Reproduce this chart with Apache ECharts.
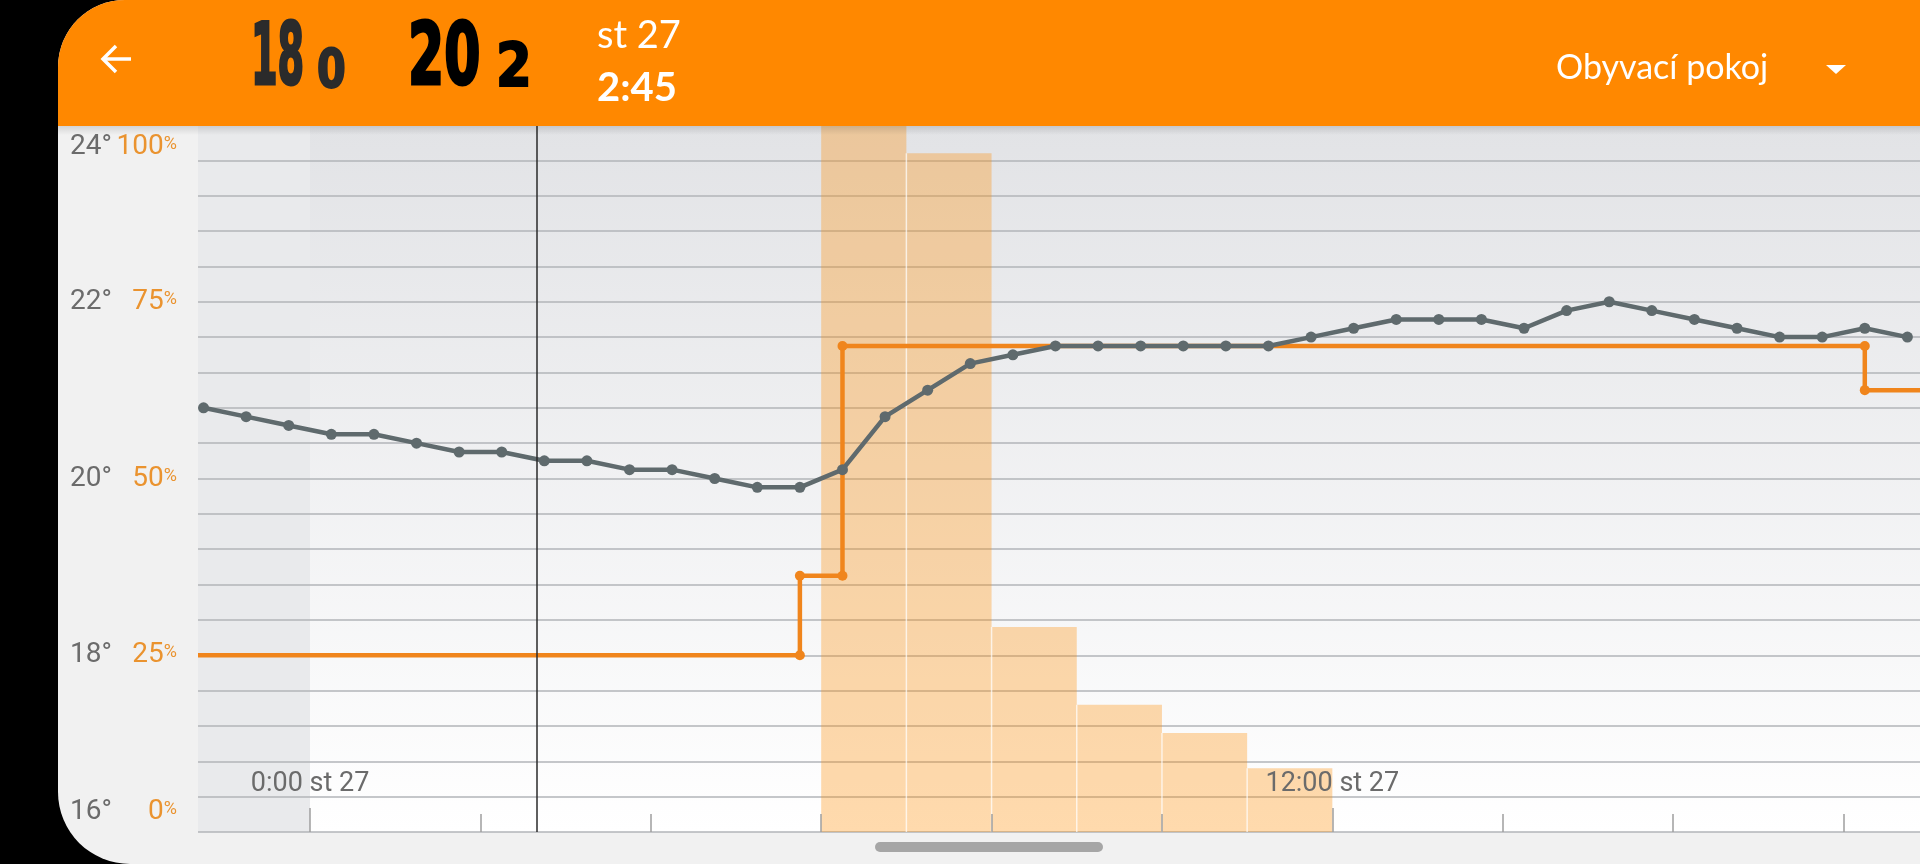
<!DOCTYPE html>
<html>
<head>
<meta charset="utf-8">
<script src="https://cdn.jsdelivr.net/npm/echarts@6/dist/echarts.min.js"></script>
<style>
html,body{margin:0;padding:0;background:#000;overflow:hidden}
#c{width:1920px;height:864px}
</style>
</head>
<body>
<div id="c"></div>
<script>
// ---------- data (hours relative to 0:00 st 27) ----------
const X_MIN = -1.315;
const X_MAX = 18.898;

const tempTimes = [-1.25, -0.75, -0.25, 0.25, 0.75, 1.25, 1.75, 2.25, 2.75, 3.25,
  3.75, 4.25, 4.75, 5.25, 5.75, 6.25, 6.75, 7.25, 7.75, 8.25,
  8.75, 9.25, 9.75, 10.25, 10.75, 11.25, 11.75, 12.25, 12.75, 13.25,
  13.75, 14.25, 14.75, 15.25, 15.75, 16.25, 16.75, 17.25, 17.75, 18.25, 18.75];
const tempValues = [20.8, 20.7, 20.6, 20.5, 20.5, 20.4, 20.3, 20.3, 20.2, 20.2,
  20.1, 20.1, 20.0, 19.9, 19.9, 20.1, 20.7, 21.0, 21.3, 21.4,
  21.5, 21.5, 21.5, 21.5, 21.5, 21.5, 21.6, 21.7, 21.8, 21.8,
  21.8, 21.7, 21.9, 22.0, 21.9, 21.8, 21.7, 21.6, 21.6, 21.7, 21.6];

const heatStartTimes = [6, 7, 8, 9, 10, 11];
const heatPercent = [100, 96, 29, 18, 14, 9];
const heatSlotHours = 1;

const setpointChangeTimes = [5.75, 6.25, 18.25];
const setpointValues = [18.0, 18.9, 21.5, 21.0];

const nowTime = 2.66;

const tempAxisMin = 16, tempAxisMax = 24, tempAxisStep = 2;
const pctAxisMin = 0, pctAxisMax = 100, pctGridStep = 5, pctLabelStep = 25;
const xTickHours = [0, 2, 4, 6, 8, 10, 12, 14, 16, 18];
const xLabelHours = [0, 12];
const xLabelDay = 'st 27';

const headerDay = 'st 27';
const headerTime = '2:45';
const roomName = 'Obyvací pokoj';
const setTempMain = '18', setTempDec = '0';
const curTempMain = '20', curTempDec = '2';

// ---------- styles ----------
const GRAY = '#5f6a6d';
const ORANGE = '#f0851c';
const HEADER = '#ff8800';
const TEMP_LABEL = '#6b6b6b';
const PCT_LABEL = '#ea932f';

const spData = [[X_MIN, setpointValues[0]]];
setpointChangeTimes.forEach((t, i) => {
  spData.push([t, setpointValues[i]]);
  spData.push([t, setpointValues[i + 1]]);
});
spData.push([X_MAX, setpointValues[setpointValues.length - 1]]);

const chart = echarts.init(document.getElementById('c'), null, {renderer: 'canvas', width: 1920, height: 864});

const tempRich = {
  n: {fontSize: 28, color: TEMP_LABEL, fontFamily: 'Roboto'},
  t: {fontSize: 28, color: TEMP_LABEL, fontFamily: 'Roboto', padding: [44, 0, 0, 0]},
  b: {fontSize: 28, color: TEMP_LABEL, fontFamily: 'Roboto', padding: [0, 0, 40, 0]}
};
const pctRich = {
  n: {fontSize: 28, color: PCT_LABEL, fontFamily: 'Roboto'},
  p: {fontSize: 18, color: PCT_LABEL, fontFamily: 'Roboto', padding: [0, 0, 5, 0]},
  tn: {fontSize: 28, color: PCT_LABEL, fontFamily: 'Roboto', padding: [44, 0, 0, 0]},
  tp: {fontSize: 18, color: PCT_LABEL, fontFamily: 'Roboto', padding: [44, 0, 5, 0]},
  bn: {fontSize: 28, color: PCT_LABEL, fontFamily: 'Roboto', padding: [0, 0, 40, 0]},
  bp: {fontSize: 18, color: PCT_LABEL, fontFamily: 'Roboto', padding: [0, 0, 45, 0]}
};

const option = {
  backgroundColor: '#000000',
  animation: false,
  grid: {
    left: 198, right: 0, top: 125, bottom: 32,
    show: true, borderWidth: 0,
    outerBoundsMode: 'none',
    backgroundColor: new echarts.graphic.LinearGradient(0, 0, 0, 1, [
      {offset: 0, color: '#e2e3e6'},
      {offset: 1, color: '#ffffff'}
    ])
  },
  xAxis: [
    {
      type: 'value', min: X_MIN, max: X_MAX, z: 5,
      axisLine: {show: false},
      splitLine: {show: false},
      axisLabel: {show: false},
      axisTick: {show: true, inside: true, length: 18, customValues: xTickHours,
        lineStyle: {color: '#9e9e9e', width: 1.5}}
    },
    {
      type: 'value', min: X_MIN, max: X_MAX, z: 5, position: 'bottom',
      axisLine: {show: false},
      splitLine: {show: false},
      axisTick: {show: true, inside: true, length: 24, customValues: xLabelHours,
        lineStyle: {color: '#9e9e9e', width: 1.5}},
      axisLabel: {show: true, inside: true, margin: 34, customValues: xLabelHours,
        color: TEMP_LABEL, fontSize: 27, fontFamily: 'Roboto',
        formatter: v => Math.round(v) + ':00 ' + xLabelDay}
    }
  ],
  yAxis: [
    {
      type: 'value', min: tempAxisMin, max: tempAxisMax, interval: tempAxisStep, position: 'left', z: 1,
      axisLine: {show: false}, axisTick: {show: false}, splitLine: {show: false},
      axisLabel: {
        align: 'left', margin: 128,
        formatter: v => {
          const k = v === tempAxisMax ? 't' : (v === tempAxisMin ? 'b' : 'n');
          return '{' + k + '|' + v + '°}';
        },
        rich: tempRich
      }
    },
    {
      type: 'value', min: pctAxisMin, max: pctAxisMax, interval: pctGridStep, position: 'left', z: 1.5,
      axisLine: {show: false}, axisTick: {show: false},
      splitLine: {show: true, lineStyle: {color: '#b2b4b8', width: 1.5}},
      axisLabel: {
        align: 'right', margin: 21,
        formatter: v => {
          if (v % pctLabelStep !== 0) return '';
          const pre = v === pctAxisMax ? 't' : (v === pctAxisMin ? 'b' : '');
          return '{' + pre + 'n|' + v + '}{' + pre + 'p|%}';
        },
        rich: pctRich
      }
    }
  ],
  series: [
    {
      name: 'shade', type: 'line', data: [], z: 1, xAxisIndex: 0, yAxisIndex: 0,
      markArea: {silent: true, itemStyle: {color: '#e9eaec'},
        data: [[{xAxis: X_MIN}, {xAxis: 0}]]}
    },
    {
      name: 'heating', type: 'custom', xAxisIndex: 0, yAxisIndex: 1, z: 2, silent: true,
      data: heatStartTimes.map((t, i) => [t, heatPercent[i]]),
      renderItem: (params, api) => {
        const t = api.value(0), p = api.value(1);
        const tl = api.coord([t, p]);
        const br = api.coord([t + heatSlotHours, 0]);
        const children = [{
          type: 'rect',
          shape: {x: tl[0], y: tl[1], width: br[0] - tl[0], height: br[1] - tl[1]},
          style: {fill: 'rgba(255,140,0,0.32)'}
        }];
        if (params.dataIndex > 0) {
          children.push({
            type: 'rect',
            shape: {x: tl[0] - 0.75, y: tl[1], width: 1.5, height: br[1] - tl[1]},
            style: {fill: 'rgba(255,255,255,0.7)'}
          });
        }
        return {type: 'group', children};
      },
      markLine: {
        silent: true, symbol: ['none', 'none'], label: {show: false},
        lineStyle: {color: '#2a2a2a', width: 1.5, type: 'solid'},
        emphasis: {disabled: true},
        data: [{xAxis: nowTime}]
      }
    },
    {
      name: 'setpoint', type: 'line', xAxisIndex: 0, yAxisIndex: 0, z: 3, silent: true,
      data: spData,
      symbol: (v, p) => (p.dataIndex === 0 || p.dataIndex === spData.length - 1) ? 'none' : 'circle',
      symbolSize: 10,
      lineStyle: {color: ORANGE, width: 4.5},
      itemStyle: {color: ORANGE}
    },
    {
      name: 'temperature', type: 'line', xAxisIndex: 0, yAxisIndex: 0, z: 4, silent: true,
      data: tempTimes.map((t, i) => [t, tempValues[i]]),
      symbol: 'circle', symbolSize: 11, showAllSymbol: true,
      lineStyle: {color: GRAY, width: 4.5},
      itemStyle: {color: GRAY}
    }
  ],
  graphic: [
    {type: 'rect', z: -5, silent: true, shape: {x: 58, y: 0, width: 1862, height: 864, r: [67, 0, 0, 72]}, style: {fill: '#f1f1f1'}},
    {type: 'rect', z: 99, silent: true, shape: {x: 58, y: 126, width: 1862, height: 9},
      style: {fill: new echarts.graphic.LinearGradient(0, 0, 0, 1, [{offset: 0, color: 'rgba(0,0,0,0.12)'}, {offset: 1, color: 'rgba(0,0,0,0)'}])}},
    {type: 'rect', z: 100, silent: true, shape: {x: 58, y: 0, width: 1862, height: 126, r: [67, 0, 0, 0]}, style: {fill: HEADER}},
    {type: 'polyline', z: 101, silent: true, shape: {points: [[116, 46], [103, 59], [116, 72]]}, style: {stroke: '#fff', lineWidth: 3.5, fill: null}},
    {type: 'line', z: 101, silent: true, shape: {x1: 104, y1: 59, x2: 131, y2: 59}, style: {stroke: '#fff', lineWidth: 3.5}},
    {type: 'text', z: 101, silent: true, x: 251, y: 61.5, scaleX: 0.5,
      style: {text: setTempMain, fill: '#2b2b2b', font: 'bold 85px "DejaVu Sans Condensed", "DejaVu Sans"', textAlign: 'left', textVerticalAlign: 'middle', stroke: '#2b2b2b', lineWidth: 3}},
    {type: 'text', z: 101, silent: true, x: 317, y: 72.5, scaleX: 0.85,
      style: {text: setTempDec, fill: '#2b2b2b', font: 'bold 54px "DejaVu Sans Condensed", "DejaVu Sans"', textAlign: 'left', textVerticalAlign: 'middle', stroke: '#2b2b2b', lineWidth: 2}},
    {type: 'text', z: 101, silent: true, x: 408, y: 61.5, scaleX: 0.68,
      style: {text: curTempMain, fill: '#000000', font: 'bold 85px "DejaVu Sans Condensed", "DejaVu Sans"', textAlign: 'left', textVerticalAlign: 'middle', stroke: '#000000', lineWidth: 3}},
    {type: 'text', z: 101, silent: true, x: 496, y: 70, scaleX: 0.95,
      style: {text: curTempDec, fill: '#000000', font: 'bold 60px "DejaVu Sans Condensed", "DejaVu Sans"', textAlign: 'left', textVerticalAlign: 'middle', stroke: '#000000', lineWidth: 2}},
    {type: 'text', z: 101, silent: true, x: 597, y: 36,
      style: {text: headerDay, fill: '#ffffff', font: '38px Lato', textAlign: 'left', textVerticalAlign: 'middle'}},
    {type: 'text', z: 101, silent: true, x: 597, y: 88,
      style: {text: headerTime, fill: '#ffffff', font: 'bold 40px Lato', textAlign: 'left', textVerticalAlign: 'middle'}},
    {type: 'text', z: 101, silent: true, x: 1556, y: 68,
      style: {text: roomName, fill: '#ffffff', font: '34px Lato', textAlign: 'left', textVerticalAlign: 'middle'}},
    {type: 'polygon', z: 101, silent: true, shape: {points: [[1826, 65], [1846, 65], [1836, 74]]}, style: {fill: '#ffffff'}},
    {type: 'rect', z: 101, silent: true, shape: {x: 875, y: 842, width: 228, height: 10, r: 5}, style: {fill: '#a6a6a6'}}
  ]
};
chart.setOption(option);
</script>
</body>
</html>
